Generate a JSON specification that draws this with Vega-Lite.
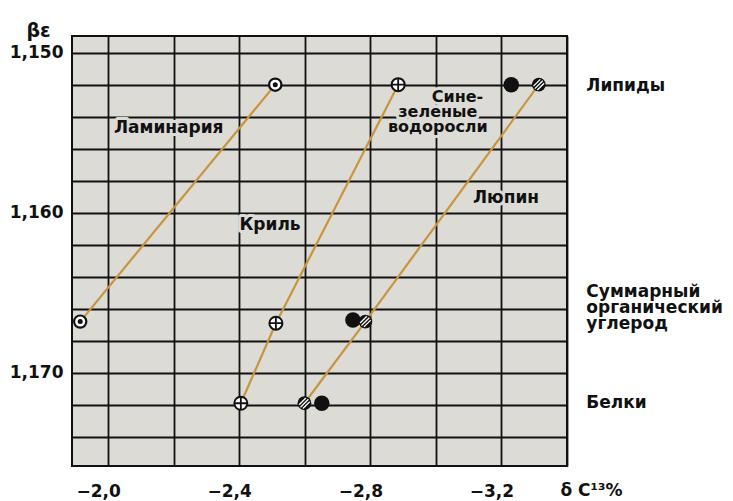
{
  "$schema": "https://vega.github.io/schema/vega-lite/v6.json",
  "width": 495,
  "height": 430,
  "autosize": {"type": "none"},
  "padding": {"left": 72, "top": 36, "right": 166, "bottom": 35},
  "background": "white",
  "config": {
    "font": "DejaVu Sans",
    "view": {"fill": "#dcdbd6", "stroke": "#111111", "strokeWidth": 2},
    "axis": {
      "grid": true,
      "gridColor": "#111111",
      "gridWidth": 1.8,
      "gridOpacity": 1,
      "domain": false,
      "ticks": false,
      "tickSize": 0,
      "labelFont": "DejaVu Sans",
      "labelFontSize": 17,
      "labelFontWeight": "bold",
      "labelColor": "#111111",
      "labelFlush": false,
      "labelOverlap": false,
      "labelBound": false,
      "titleFont": "DejaVu Sans",
      "titleColor": "#111111",
      "titleFontWeight": "bold"
    }
  },
  "datasets": {
    "points": [
      {"series": "laminaria", "level": "lipids", "ord": 3, "d13C": -2.51, "beta": 1.152},
      {"series": "laminaria", "level": "total", "ord": 2, "d13C": -1.915, "beta": 1.1668},
      {"series": "krill", "level": "lipids", "ord": 3, "d13C": -2.885, "beta": 1.152},
      {"series": "krill", "level": "total", "ord": 2, "d13C": -2.512, "beta": 1.1669},
      {"series": "krill", "level": "proteins", "ord": 1, "d13C": -2.405, "beta": 1.1719},
      {"series": "cyanobacteria", "level": "lipids", "ord": 3, "d13C": -3.23, "beta": 1.152},
      {"series": "cyanobacteria", "level": "total", "ord": 2, "d13C": -2.747, "beta": 1.1667},
      {"series": "cyanobacteria", "level": "proteins", "ord": 1, "d13C": -2.652, "beta": 1.1719},
      {"series": "lupine", "level": "lipids", "ord": 3, "d13C": -3.314, "beta": 1.152},
      {"series": "lupine", "level": "total", "ord": 2, "d13C": -2.785, "beta": 1.1668},
      {"series": "lupine", "level": "proteins", "ord": 1, "d13C": -2.599, "beta": 1.1719}
    ],
    "seriesLabels": [
      {"label": "Ламинария", "d13C": -2.185, "beta": 1.15473, "size": 17},
      {"label": "Сине-", "d13C": -3.066, "beta": 1.15275, "size": 16},
      {"label": "зеленые\nводоросли", "d13C": -3.006, "beta": 1.15373, "size": 16},
      {"label": "Криль", "d13C": -2.494, "beta": 1.16078, "size": 17},
      {"label": "Люпин", "d13C": -3.214, "beta": 1.15909, "size": 17}
    ],
    "fractionLabels": [
      {"label": "Липиды", "d13C": -3.459, "beta": 1.1521},
      {"label": "Суммарный\nорганический\nуглерод", "d13C": -3.459, "beta": 1.16496},
      {"label": "Белки", "d13C": -3.459, "beta": 1.1719}
    ]
  },
  "encoding": {
    "x": {
      "field": "d13C",
      "type": "quantitative",
      "scale": {"domain": [-3.4, -1.89], "reverse": true, "nice": false, "zero": false},
      "axis": {
        "orient": "bottom",
        "values": [-2.0, -2.2, -2.4, -2.6, -2.8, -3.0, -3.2, -3.4],
        "labelExpr": "round(datum.value * 10) % 4 === 0 ? replace(format(datum.value, '.1f'), '.', ',') : ''",
        "labelPadding": 17,
        "labelOffset": -10,
        "title": "δ C¹³%",
        "titleX": 488,
        "titleY": 24,
        "titleAlign": "left",
        "titleBaseline": "middle",
        "titleFontSize": 17
      }
    },
    "y": {
      "field": "beta",
      "type": "quantitative",
      "scale": {"domain": [1.14896, 1.17582], "reverse": true, "nice": false, "zero": false},
      "axis": {
        "values": [1.15, 1.152, 1.154, 1.156, 1.158, 1.16, 1.162, 1.164, 1.166, 1.168, 1.17, 1.172, 1.174],
        "labelExpr": "round(datum.value * 1000) % 10 === 0 ? replace(format(datum.value, '.3f'), '.', ',') : ''",
        "labelPadding": 9,
        "title": "βε",
        "titleAngle": 0,
        "titleX": -34,
        "titleY": -6,
        "titleAlign": "center",
        "titleBaseline": "middle",
        "titleFontSize": 19
      }
    }
  },
  "layer": [
    {
      "data": {"name": "points"},
      "transform": [{"filter": "datum.series !== 'cyanobacteria'"}],
      "mark": {"type": "line", "color": "#c8953f", "strokeWidth": 2.2},
      "encoding": {
        "detail": {"field": "series"},
        "order": {"field": "ord", "type": "quantitative"}
      }
    },
    {
      "data": {"name": "seriesLabels"},
      "mark": {"type": "text", "align": "center", "baseline": "middle", "lineBreak": "\n", "lineHeight": 15, "fontWeight": "bold", "stroke": "#dcdbd6", "strokeWidth": 6, "strokeJoin": "round", "fill": "#dcdbd6"},
      "encoding": {
        "text": {"field": "label"},
        "size": {"field": "size", "type": "quantitative", "scale": null}
      }
    },
    {
      "data": {"name": "seriesLabels"},
      "mark": {"type": "text", "align": "center", "baseline": "middle", "lineBreak": "\n", "lineHeight": 15, "fontWeight": "bold", "color": "#111111"},
      "encoding": {
        "text": {"field": "label"},
        "size": {"field": "size", "type": "quantitative", "scale": null}
      }
    },
    {
      "data": {"name": "fractionLabels"},
      "mark": {"type": "text", "align": "left", "baseline": "middle", "lineBreak": "\n", "lineHeight": 16, "fontSize": 17, "fontWeight": "bold", "color": "#111111"},
      "encoding": {"text": {"field": "label"}}
    },
    {
      "data": {"name": "points"},
      "transform": [{"filter": "datum.series === 'laminaria'"}],
      "mark": {"type": "point", "shape": "circle", "filled": true, "fill": "white", "stroke": "#111111", "strokeWidth": 2.2, "size": 150, "opacity": 1}
    },
    {
      "data": {"name": "points"},
      "transform": [{"filter": "datum.series === 'laminaria'"}],
      "mark": {"type": "point", "shape": "circle", "filled": true, "color": "#111111", "size": 25, "opacity": 1}
    },
    {
      "data": {"name": "points"},
      "transform": [{"filter": "datum.series === 'krill'"}],
      "mark": {"type": "point", "shape": "circle", "filled": true, "fill": "white", "stroke": "#111111", "strokeWidth": 2, "size": 170, "opacity": 1}
    },
    {
      "data": {"name": "points"},
      "transform": [{"filter": "datum.series === 'krill'"}],
      "mark": {"type": "point", "shape": "M-1,0L1,0M0,-1L0,1", "filled": false, "stroke": "#111111", "strokeWidth": 1.8, "size": 170, "opacity": 1}
    },
    {
      "data": {"name": "points"},
      "transform": [{"filter": "datum.series === 'cyanobacteria'"}],
      "mark": {"type": "point", "shape": "circle", "filled": true, "color": "#111111", "size": 240, "opacity": 1}
    },
    {
      "data": {"name": "points"},
      "transform": [{"filter": "datum.series === 'lupine'"}],
      "mark": {"type": "point", "shape": "circle", "filled": true, "color": "#111111", "size": 190, "opacity": 1}
    },
    {
      "data": {"name": "points"},
      "transform": [{"filter": "datum.series === 'lupine'"}],
      "mark": {"type": "point", "shape": "M-0.57,0.57L0.57,-0.57M-0.21,0.77L0.77,-0.21M-0.77,0.21L0.21,-0.77", "filled": false, "stroke": "white", "strokeWidth": 1.3, "size": 190, "opacity": 1}
    }
  ]
}
